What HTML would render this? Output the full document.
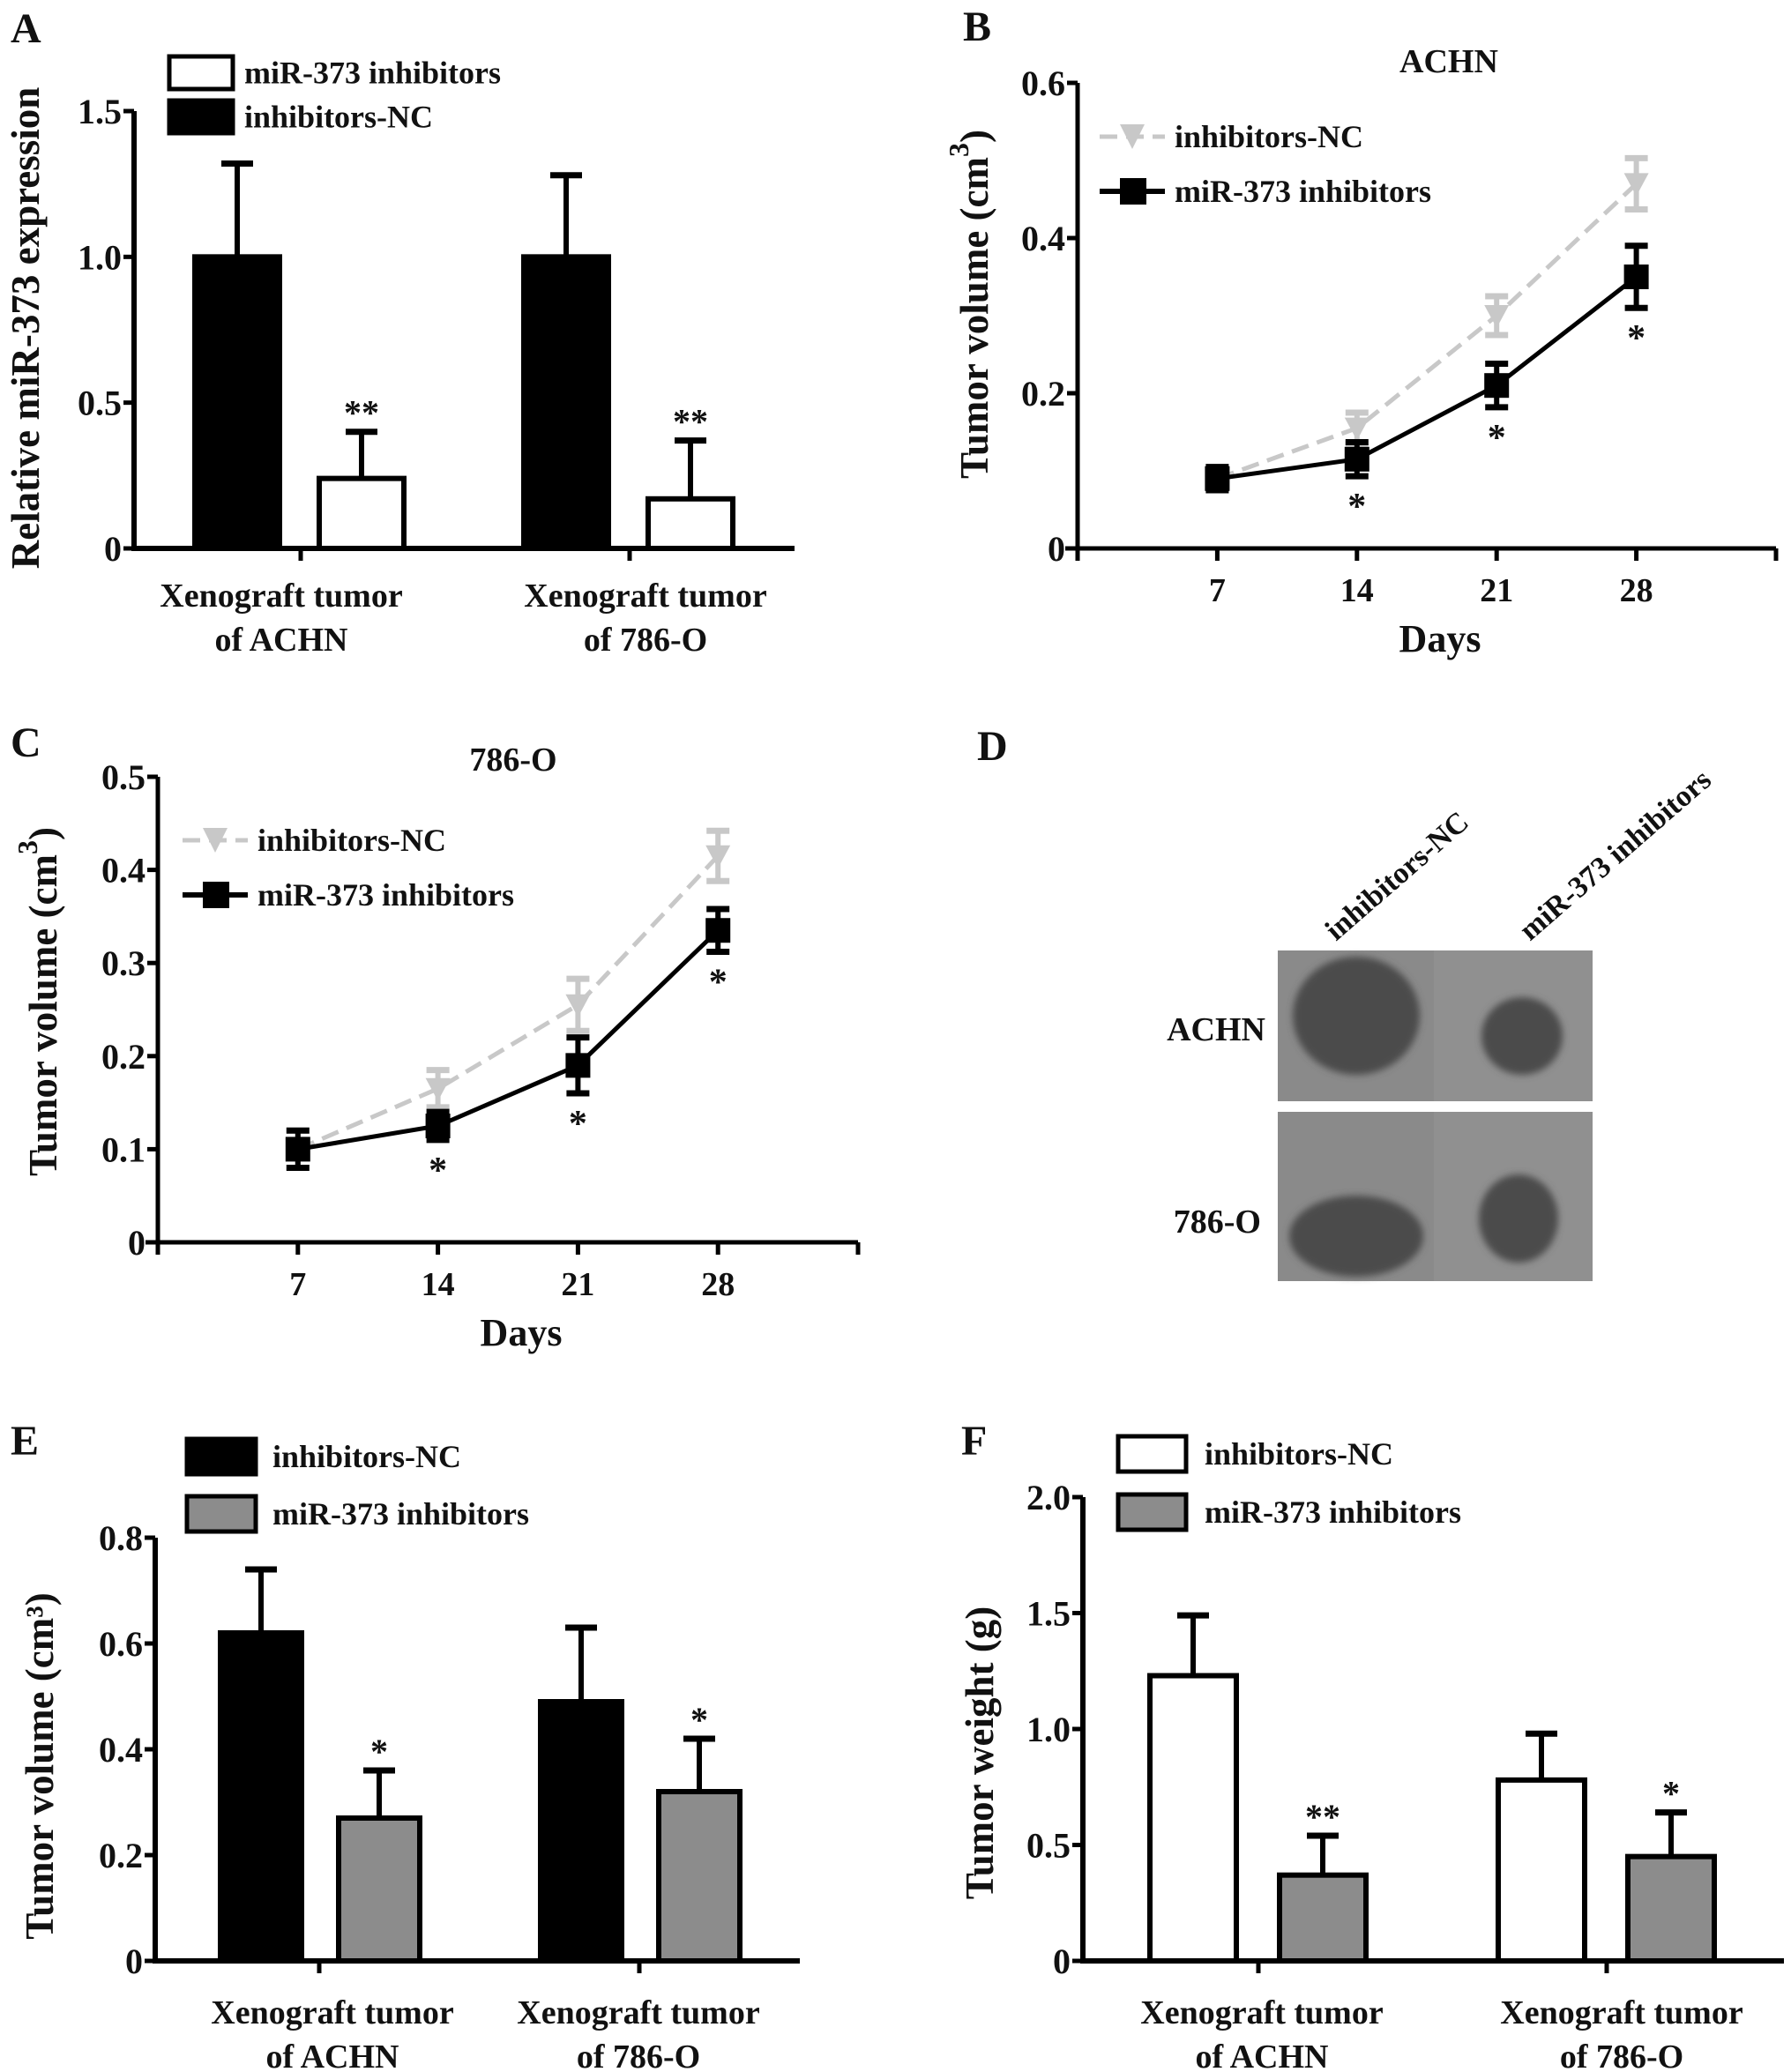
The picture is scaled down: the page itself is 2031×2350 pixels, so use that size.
<!DOCTYPE html>
<html><head><meta charset="utf-8"><style>
html,body{margin:0;padding:0;background:#fff;}
svg{display:block;font-family:"Liberation Serif","Times New Roman",serif;font-weight:bold;}
</style></head><body>
<svg id="fig" width="2031" height="2350" viewBox="0 0 2031 2350" xmlns="http://www.w3.org/2000/svg">
<rect x="0" y="0" width="2031" height="2350" fill="#fff"/>
</svg>
<script>
// ---------- data ----------
const barGroups = ["ACHN", "786-O"];
const A_nc = [1.0, 1.0];
const A_ncErr = [0.32, 0.28];
const A_inh = [0.24, 0.17];
const A_inhErr = [0.16, 0.20];
const A_sig = ["**", "**"];
const A_ticks = [0, 0.5, 1.0, 1.5];
const A_tickLabels = ["0", "0.5", "1.0", "1.5"];

const days = [7, 14, 21, 28];
const dayLabels = ["7", "14", "21", "28"];
const B_nc = [0.09, 0.155, 0.30, 0.47];
const B_ncErr = [0.015, 0.02, 0.025, 0.033];
const B_inh = [0.09, 0.115, 0.21, 0.35];
const B_inhErr = [0.015, 0.022, 0.028, 0.04];
const B_sig = ["", "*", "*", "*"];
const B_ticks = [0, 0.2, 0.4, 0.6];
const B_tickLabels = ["0", "0.2", "0.4", "0.6"];

const C_nc = [0.10, 0.165, 0.255, 0.415];
const C_ncErr = [0.02, 0.02, 0.028, 0.027];
const C_inh = [0.10, 0.125, 0.19, 0.335];
const C_inhErr = [0.02, 0.015, 0.03, 0.023];
const C_sig = ["", "*", "*", "*"];
const C_ticks = [0, 0.1, 0.2, 0.3, 0.4, 0.5];
const C_tickLabels = ["0", "0.1", "0.2", "0.3", "0.4", "0.5"];

const E_nc = [0.62, 0.49];
const E_ncErr = [0.12, 0.14];
const E_inh = [0.27, 0.32];
const E_inhErr = [0.09, 0.10];
const E_sig = ["*", "*"];
const E_ticks = [0, 0.2, 0.4, 0.6, 0.8];
const E_tickLabels = ["0", "0.2", "0.4", "0.6", "0.8"];

const F_nc = [1.23, 0.78];
const F_ncErr = [0.26, 0.20];
const F_inh = [0.37, 0.45];
const F_inhErr = [0.17, 0.19];
const F_sig = ["**", "*"];
const F_ticks = [0, 0.5, 1.0, 1.5, 2.0];
const F_tickLabels = ["0", "0.5", "1.0", "1.5", "2.0"];

// ---------- helpers ----------
const svg = document.getElementById('fig');
const NS = 'http://www.w3.org/2000/svg';
function mk(tag, attrs, parent) {
  const e = document.createElementNS(NS, tag);
  for (const k in attrs) e.setAttribute(k, attrs[k]);
  (parent || svg).appendChild(e);
  return e;
}
function txt(s, x, y, size, anchor, name, parent, extra) {
  const t = mk('text', Object.assign({x: x, y: y, 'font-size': size, 'text-anchor': anchor || 'start', fill: '#111'}, extra || {}), parent);
  t.textContent = s;
  
  
  return t;
}
function line(x1, y1, x2, y2, w, col, parent) {
  return mk('line', {x1: x1, y1: y1, x2: x2, y2: y2, stroke: col || '#000', 'stroke-width': w}, parent);
}

// ---------- bar chart ----------
function barChart(p) {
  const g = mk('g', {});
  
  
  const yv = v => p.y0 - (v / p.ymax) * (p.y0 - p.ytop);
  const ax = line(p.ax, p.y0, p.ax, p.ytop, 6, '#000', g);
  
  
  p.ticks.forEach((t, i) => {
    line(p.ax - 12, yv(t), p.ax, yv(t), 5, '#000', g);
    txt(p.tickLabels[i], p.ax - 14, yv(t) + 14, 40, 'end', 'y-tick-label', g);
  });
  const xa = line(p.ax - 3, p.y0, p.axEnd, p.y0, 6, '#000', g);
  
  
  p.groupX.forEach((gx, i) => {
    line(gx, p.y0, gx, p.y0 + 14, 5, '#000', g);
    const series = [
      {v: p.s1[i], e: p.s1e[i], fill: p.c1, off: p.off1, nm: 'bar-' + p.n1 + '-' + barGroups[i], sig: ''},
      {v: p.s2[i], e: p.s2e[i], fill: p.c2, off: p.off2, nm: 'bar-' + p.n2 + '-' + barGroups[i], sig: p.sig[i]}
    ];
    series.forEach(s => {
      const cx = gx + s.off;
      const top = yv(s.v), etop = yv(s.v + s.e);
      line(cx, top, cx, etop, 6, '#000', g);
      line(cx - 18, etop, cx + 18, etop, 7, '#000', g);
      const r = mk('rect', {x: cx - p.bw / 2, y: top, width: p.bw, height: p.y0 - top, fill: s.fill, stroke: '#000', 'stroke-width': 6}, g);
      
      
      if (s.sig) txt(s.sig, cx, etop - 8, 40, 'middle', 'significance-marker', g);
    });
    txt('Xenograft tumor', gx + p.lblOff[i], p.lblY, 38, 'middle', 'x-category-label', g);
    txt(barGroups[i] === 'ACHN' ? 'of ACHN' : 'of 786-O', gx + p.lblOff[i], p.lblY + 50, 38, 'middle', 'x-category-label', g);
  });
  p.legend.forEach(L => {
    const r = mk('rect', {x: L.x, y: L.y, width: L.w, height: L.h, fill: L.fill, stroke: '#000', 'stroke-width': 5}, g);
    
    
    txt(L.label, L.tx, L.y + L.h / 2 + 12, 36, 'start', 'legend-label', g);
  });
  txt(p.ytitle, 0, 0, 45, 'middle', 'y-axis-title', g, {transform: 'translate(' + p.ytx + ',' + p.yty + ') rotate(-90)'});
  return g;
}

// ---------- line chart ----------
function lineChart(p) {
  const g = mk('g', {});
  
  
  const yv = v => p.y0 - (v / p.ymax) * (p.y0 - p.ytop);
  const xd = d => p.ax + d * (p.axEnd - p.ax) / 35;
  const ya = line(p.ax, p.y0, p.ax, p.ytop, 5, '#000', g);
  
  
  p.ticks.forEach((t, i) => {
    line(p.ax - 12, yv(t), p.ax, yv(t), 5, '#000', g);
    txt(p.tickLabels[i], p.ax - 14, yv(t) + 14, 40, 'end', 'y-tick-label', g);
  });
  const xa = line(p.ax - 14, p.y0, p.axEnd, p.y0, 5, '#000', g);
  
  
  line(p.ax, p.y0, p.ax, p.y0 + 14, 5, '#000', g);
  line(p.axEnd, p.y0, p.axEnd, p.y0 + 14, 5, '#000', g);
  days.forEach((d, i) => {
    line(xd(d), p.y0, xd(d), p.y0 + 14, 5, '#000', g);
    txt(dayLabels[i], xd(d), p.y0 + 60, 38, 'middle', 'x-tick-label', g);
  });
  txt('Days', (p.ax + p.axEnd) / 2 + 15, p.y0 + 117, 44, 'middle', 'x-axis-title', g);
  txt(p.title, p.titleX, p.titleY, 38, 'middle', 'chart-title', g);
  const ncPts = days.map((d, i) => xd(d) + ',' + yv(p.nc[i])).join(' ');
  const pl1 = mk('polyline', {points: ncPts, fill: 'none', stroke: '#c8c8c8', 'stroke-width': 5, 'stroke-dasharray': '20 10'}, g);
  
  
  days.forEach((d, i) => {
    const x = xd(d), y = yv(p.nc[i]), t = yv(p.nc[i] + p.ncE[i]), b = yv(p.nc[i] - p.ncE[i]);
    line(x, t, x, b, 6, '#c8c8c8', g);
    line(x - 13, t, x + 13, t, 7, '#c8c8c8', g);
    line(x - 13, b, x + 13, b, 7, '#c8c8c8', g);
    const m = mk('polygon', {points: (x - 14) + ',' + (y - 12) + ' ' + (x + 14) + ',' + (y - 12) + ' ' + x + ',' + (y + 14), fill: '#c8c8c8'}, g);
    
    
  });
  const inPts = days.map((d, i) => xd(d) + ',' + yv(p.inh[i])).join(' ');
  const pl2 = mk('polyline', {points: inPts, fill: 'none', stroke: '#000', 'stroke-width': 5}, g);
  
  
  days.forEach((d, i) => {
    const x = xd(d), y = yv(p.inh[i]), t = yv(p.inh[i] + p.inhE[i]), b = yv(p.inh[i] - p.inhE[i]);
    line(x, t, x, b, 6, '#000', g);
    line(x - 13, t, x + 13, t, 7, '#000', g);
    line(x - 13, b, x + 13, b, 7, '#000', g);
    const m = mk('rect', {x: x - 14, y: y - 14, width: 28, height: 28, fill: '#000'}, g);
    
    
    if (p.sig[i]) txt(p.sig[i], x, b + 48, 42, 'middle', 'significance-marker', g);
  });
  const lx = p.legX, l1 = p.legY1, l2 = p.legY2;
  const d1 = line(lx, l1, lx + 74, l1, 5, '#c8c8c8', g);
  d1.setAttribute('stroke-dasharray', '20 10');
  mk('polygon', {points: (lx + 23) + ',' + (l1 - 14) + ' ' + (lx + 51) + ',' + (l1 - 14) + ' ' + (lx + 37) + ',' + (l1 + 14), fill: '#c8c8c8'}, g);
  txt('inhibitors-NC', lx + 85, l1 + 12, 36, 'start', 'legend-label', g);
  line(lx, l2, lx + 74, l2, 6, '#000', g);
  mk('rect', {x: lx + 23, y: l2 - 15, width: 30, height: 30, fill: '#000'}, g);
  txt('miR-373 inhibitors', lx + 85, l2 + 12, 36, 'start', 'legend-label', g);
  const yt = mk('text', {transform: 'translate(' + p.ytx + ',' + p.yty + ') rotate(-90)', 'font-size': 45, 'text-anchor': 'middle', fill: '#111'}, g);
  
  
  yt.appendChild(document.createTextNode('Tumor volume (cm'));
  const sup = mk('tspan', {'font-size': 32, dy: -22}, yt);
  sup.textContent = '3';
  const cl = mk('tspan', {dy: 22}, yt);
  cl.textContent = ')';
  return g;
}

// ---------- panel letters ----------
[['A', 12, 48], ['B', 1092, 46], ['C', 12, 858], ['D', 1108, 862], ['E', 12, 1650], ['F', 1090, 1650]].forEach(L => {
  txt(L[0], L[1], L[2], 48, 'start', 'panel-label-' + L[0].toLowerCase(), svg);
});

barChart({name: 'panel-a-chart', ax: 152, axEnd: 901, y0: 622, ytop: 126, ymax: 1.5,
  ticks: A_ticks, tickLabels: A_tickLabels, groupX: [341, 714], off1: -72, off2: 69, bw: 96,
  s1: A_nc, s1e: A_ncErr, s2: A_inh, s2e: A_inhErr, c1: '#000', c2: '#fff', n1: 'inhibitors-nc', n2: 'mir-373-inhibitors', sig: A_sig,
  lblOff: [-22, 18], lblY: 688,
  legend: [{x: 192, y: 64, w: 72, h: 37, fill: '#fff', label: 'miR-373 inhibitors', tx: 277},
           {x: 192, y: 114, w: 72, h: 37, fill: '#000', label: 'inhibitors-NC', tx: 277}],
  ytitle: 'Relative miR-373 expression', ytx: 44, yty: 372});

barChart({name: 'panel-e-chart', ax: 176, axEnd: 907, y0: 2224, ytop: 1744, ymax: 0.8,
  ticks: E_ticks, tickLabels: E_tickLabels, groupX: [362, 725], off1: -66, off2: 68, bw: 92,
  s1: E_nc, s1e: E_ncErr, s2: E_inh, s2e: E_inhErr, c1: '#000', c2: '#8c8c8c', n1: 'inhibitors-nc', n2: 'mir-373-inhibitors', sig: E_sig,
  lblOff: [15, -1], lblY: 2295,
  legend: [{x: 212, y: 1632, w: 78, h: 40, fill: '#000', label: 'inhibitors-NC', tx: 309},
           {x: 212, y: 1697, w: 78, h: 40, fill: '#8c8c8c', label: 'miR-373 inhibitors', tx: 309}],
  ytitle: 'Tumor volume (cm³)', ytx: 60, yty: 2003});

barChart({name: 'panel-f-chart', ax: 1228, axEnd: 2023, y0: 2224, ytop: 1698, ymax: 2.0,
  ticks: F_ticks, tickLabels: F_tickLabels, groupX: [1427, 1822], off1: -74, off2: 73, bw: 98,
  s1: F_nc, s1e: F_ncErr, s2: F_inh, s2e: F_inhErr, c1: '#fff', c2: '#8c8c8c', n1: 'inhibitors-nc', n2: 'mir-373-inhibitors', sig: F_sig,
  lblOff: [4, 17], lblY: 2295,
  legend: [{x: 1268, y: 1629, w: 77, h: 40, fill: '#fff', label: 'inhibitors-NC', tx: 1366},
           {x: 1268, y: 1695, w: 77, h: 40, fill: '#8c8c8c', label: 'miR-373 inhibitors', tx: 1366}],
  ytitle: 'Tumor weight (g)', ytx: 1126, yty: 1988});

lineChart({name: 'panel-b-chart', ax: 1222, axEnd: 2014, y0: 622, ytop: 94, ymax: 0.6,
  ticks: B_ticks, tickLabels: B_tickLabels, nc: B_nc, ncE: B_ncErr, inh: B_inh, inhE: B_inhErr, sig: B_sig,
  title: 'ACHN', titleX: 1643, titleY: 82, legX: 1247, legY1: 155, legY2: 217, ytx: 1120, yty: 345});

lineChart({name: 'panel-c-chart', ax: 179, axEnd: 973, y0: 1409, ytop: 881, ymax: 0.5,
  ticks: C_ticks, tickLabels: C_tickLabels, nc: C_nc, ncE: C_ncErr, inh: C_inh, inhE: C_inhErr, sig: C_sig,
  title: '786-O', titleX: 582, titleY: 874, legX: 207, legY1: 953, legY2: 1015, ytx: 64, yty: 1136});

// ---------- Panel D (photo) ----------
const D = mk('g', {});


const defs = mk('defs', {});
const flt = mk('filter', {id: 'blur', x: '-20%', y: '-20%', width: '140%', height: '140%'}, defs);
mk('feGaussianBlur', {stdDeviation: 4}, flt);
[[1078, 1249, 'photo-row-achn'], [1261, 1453, 'photo-row-786-o']].forEach(r => {
  const bg = mk('rect', {x: 1449, y: r[0], width: 357, height: r[1] - r[0], fill: '#8a8a8a'}, D);
  
  
  mk('rect', {x: 1626, y: r[0], width: 180, height: r[1] - r[0], fill: '#909090'}, D);
});
const blobs = [[1538, 1152, 72, 67], [1726, 1175, 46, 44], [1538, 1402, 76, 46], [1722, 1382, 45, 50]];
blobs.forEach(b => {
  const e = mk('ellipse', {cx: b[0], cy: b[1], rx: b[2], ry: b[3], fill: '#4b4b4b', filter: 'url(#blur)'}, D);
  
  
});
txt('ACHN', 1435, 1180, 38, 'end', 'row-label-achn', D);
txt('786-O', 1430, 1398, 38, 'end', 'row-label-786-o', D);
txt('inhibitors-NC', 0, 0, 34, 'start', 'column-label-inhibitors-nc', D, {transform: 'translate(1515,1068) rotate(-41)'});
txt('miR-373 inhibitors', 0, 0, 34, 'start', 'column-label-mir-373-inhibitors', D, {transform: 'translate(1735,1068) rotate(-41)'});
</script>
</body></html>
